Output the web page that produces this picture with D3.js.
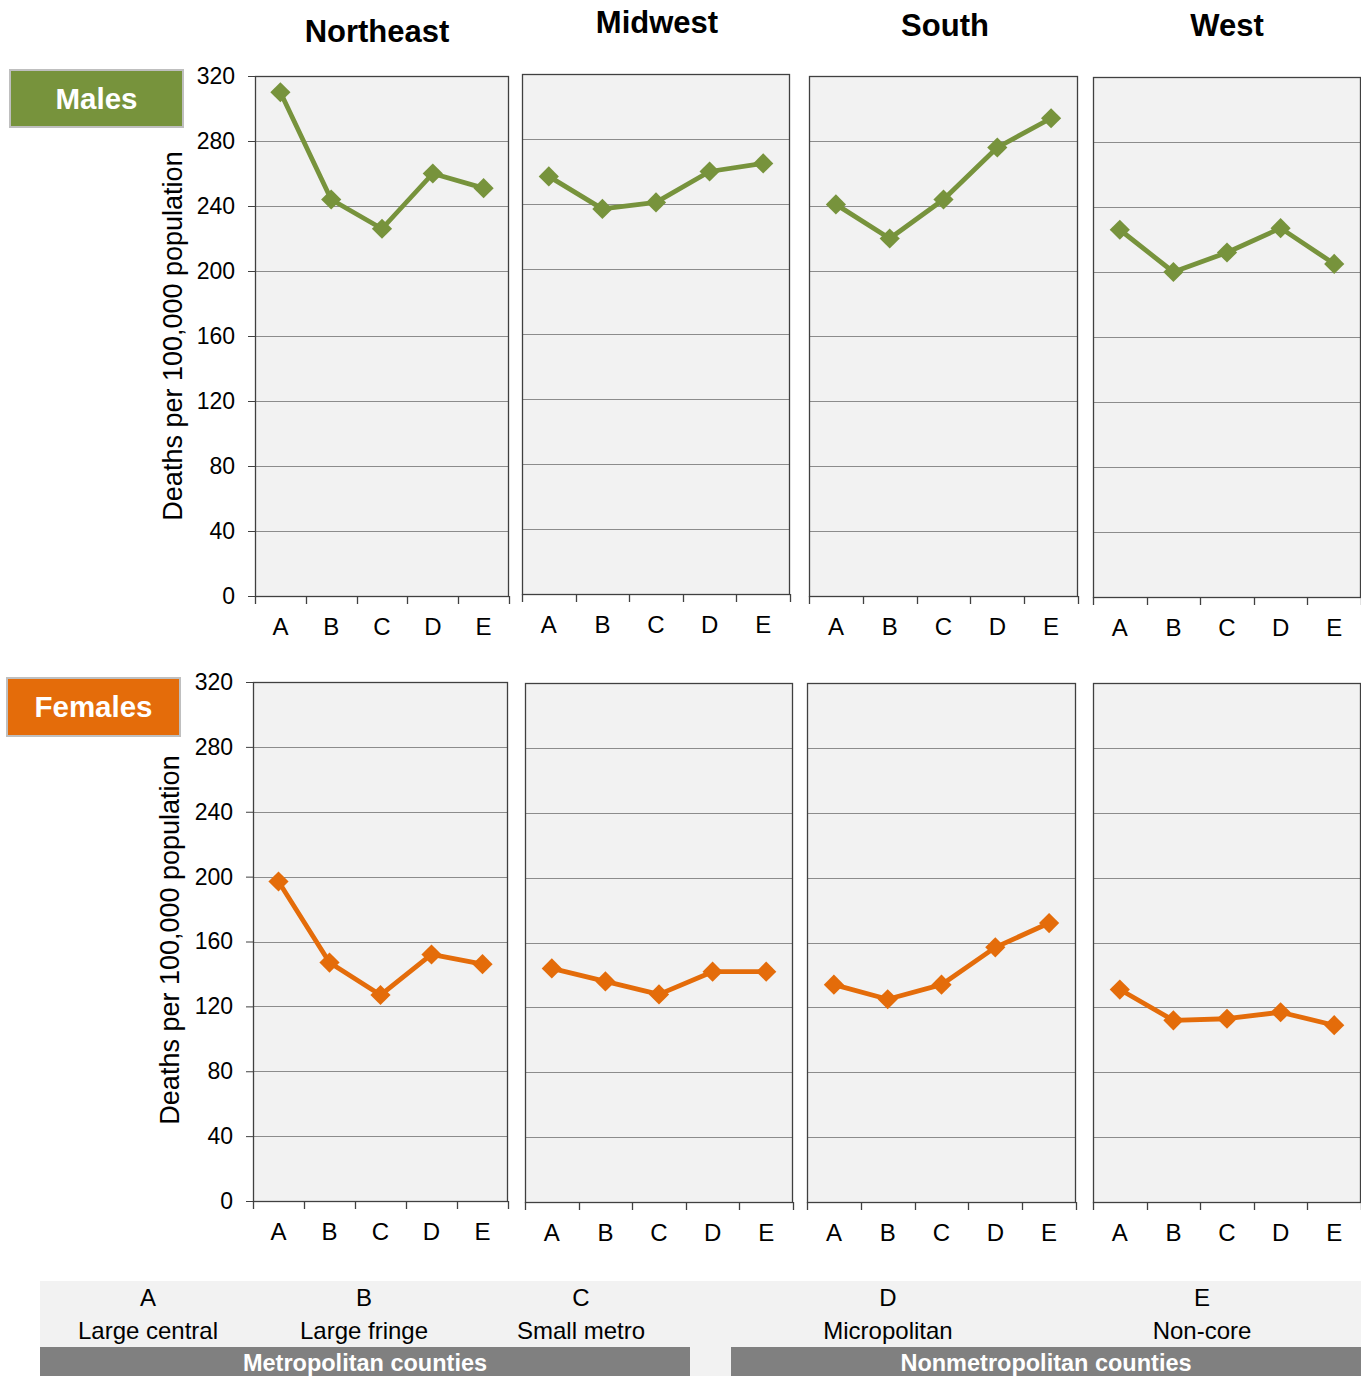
<!DOCTYPE html>
<html>
<head>
<meta charset="utf-8">
<script src="https://cdn.jsdelivr.net/npm/d3@7"></script>
<style>
  html, body { margin: 0; padding: 0; background: #fff; }
  svg { display: block; font-family: "Liberation Sans", Arial, sans-serif; }
</style>
</head>
<body>
<svg id="chart" width="1361" height="1376"></svg>
<script>
// ---------- data ----------
const regions = ["Northeast", "Midwest", "South", "West"];
const categories = ["A", "B", "C", "D", "E"];
const categoryNames = ["Large central", "Large fringe", "Small metro", "Micropolitan", "Non-core"];
const groupLabels = ["Metropolitan counties", "Nonmetropolitan counties"];
const sexLabels = ["Males", "Females"];
const yTicks = [0, 40, 80, 120, 160, 200, 240, 280, 320];
const yTitle = "Deaths per 100,000 population";

const malesNortheast = [310, 244, 226, 260, 251];
const malesMidwest   = [257, 237, 241, 260, 265];
const malesSouth     = [241, 220, 244, 276, 294];
const malesWest      = [226, 200, 212, 227, 205];

const femalesNortheast = [197, 147, 127, 152, 146];
const femalesMidwest   = [144, 136, 128, 142, 142];
const femalesSouth     = [134, 125, 134, 157, 172];
const femalesWest      = [131, 112, 113, 117, 109];

const seriesBySex = [
  [malesNortheast, malesMidwest, malesSouth, malesWest],
  [femalesNortheast, femalesMidwest, femalesSouth, femalesWest]
];

// ---------- layout (positions / styles) ----------
const sexColors = ["#77933C", "#E46C0A"];
const panelFrames = [
  [ {x0:255, x1:509, y0:76, y1:596}, {x0:522, x1:790, y0:74, y1:594},
    {x0:809, x1:1078, y0:76, y1:596}, {x0:1093, x1:1361, y0:77, y1:597} ],
  [ {x0:253, x1:508, y0:682, y1:1201}, {x0:525, x1:793, y0:683, y1:1202},
    {x0:807, x1:1076, y0:683, y1:1202}, {x0:1093, x1:1361, y0:683, y1:1202} ]
];
const titlePos = [ {x:377, y:42}, {x:657, y:33}, {x:945, y:36}, {x:1227, y:36} ];
const sexBoxes = [ {x:10, y:70, w:173, h:57}, {x:7, y:678, w:173, h:58} ];
const yTitlePos = [ {x:182, y:336}, {x:179, y:940} ];
const legendCenters = [148, 364, 581, 888, 1202];

const svg = d3.select("#chart");

// Region titles
svg.selectAll("text.region").data(regions).join("text")
  .attr("class", "region")
  .attr("x", (d, i) => titlePos[i].x)
  .attr("y", (d, i) => titlePos[i].y)
  .attr("text-anchor", "middle")
  .attr("font-size", 31).attr("font-weight", "bold").attr("fill", "#000")
  .text(d => d);

seriesBySex.forEach((regionSeries, s) => {
  const color = sexColors[s];

  // Sex label box
  const b = sexBoxes[s];
  svg.append("rect").attr("x", b.x).attr("y", b.y).attr("width", b.w).attr("height", b.h)
    .attr("fill", color).attr("stroke", "#BFBFBF").attr("stroke-width", 2);
  svg.append("text").attr("x", b.x + b.w / 2).attr("y", b.y + b.h / 2 + 10)
    .attr("text-anchor", "middle").attr("font-size", 29.5).attr("font-weight", "bold")
    .attr("fill", "#fff").text(sexLabels[s]);

  // Y title
  svg.append("text")
    .attr("transform", `translate(${yTitlePos[s].x},${yTitlePos[s].y}) rotate(-90)`)
    .attr("text-anchor", "middle").attr("font-size", 27).attr("fill", "#000")
    .text(yTitle);

  regionSeries.forEach((vals, r) => {
    const f = panelFrames[s][r];
    const x = d3.scaleBand().domain(categories).range([f.x0, f.x1]).paddingInner(0).paddingOuter(0);
    const y = d3.scaleLinear().domain([0, 320]).range([f.y1, f.y0]);
    const g = svg.append("g");

    // background
    g.append("rect").attr("x", f.x0).attr("y", f.y0)
      .attr("width", f.x1 - f.x0).attr("height", f.y1 - f.y0)
      .attr("fill", "#F2F2F2");

    // gridlines
    g.selectAll("line.grid").data(yTicks.filter(t => t > 0 && t < 320)).join("line")
      .attr("x1", f.x0).attr("x2", f.x1)
      .attr("y1", d => Math.round(y(d)) + 0.5).attr("y2", d => Math.round(y(d)) + 0.5)
      .attr("stroke", "#8C8C8C").attr("stroke-width", 1.2);

    // frame
    g.append("rect").attr("x", f.x0 + 0.5).attr("y", f.y0 + 0.5)
      .attr("width", f.x1 - f.x0 - 1).attr("height", f.y1 - f.y0)
      .attr("fill", "none").attr("stroke", "#404040").attr("stroke-width", 1.3);

    // y axis (first column only)
    if (r === 0) {
      const ya = g.append("g").attr("transform", `translate(${f.x0},0)`)
        .call(d3.axisLeft(y).tickValues(yTicks).tickSize(7).tickPadding(13).tickSizeOuter(0));
      ya.select(".domain").attr("stroke", "#404040");
      ya.selectAll(".tick line").attr("stroke", "#404040");
      ya.selectAll(".tick text").attr("font-size", 23).attr("fill", "#000")
        .attr("font-family", "Liberation Sans, Arial, sans-serif");
    }

    // x axis: labels at band centres
    const xa = g.append("g").attr("transform", `translate(0,${f.y1})`)
      .call(d3.axisBottom(x).tickSize(0).tickPadding(22));
    xa.select(".domain").remove();
    xa.selectAll(".tick text").attr("font-size", 24).attr("fill", "#000")
      .attr("font-family", "Liberation Sans, Arial, sans-serif");

    // x tick marks at band boundaries
    const bounds = categories.map(c => x(c)).concat([f.x1]);
    g.selectAll("line.xt").data(bounds).join("line")
      .attr("x1", d => Math.round(d) + 0.5).attr("x2", d => Math.round(d) + 0.5)
      .attr("y1", f.y1).attr("y2", f.y1 + 8)
      .attr("stroke", "#404040").attr("stroke-width", 1.3);

    // line
    const line = d3.line().x((d, i) => x(categories[i]) + x.bandwidth() / 2).y(d => y(d));
    g.append("path").datum(vals).attr("d", line)
      .attr("fill", "none").attr("stroke", color).attr("stroke-width", 4.8)
      .attr("stroke-linejoin", "round");

    // diamond markers
    const sym = d3.symbol().type(d3.symbolDiamond2).size(260);
    g.selectAll("path.mk").data(vals).join("path")
      .attr("transform", (d, i) => `translate(${x(categories[i]) + x.bandwidth() / 2},${y(d)})`)
      .attr("d", sym).attr("fill", color);
  });
});

// ---------- bottom legend ----------
svg.append("rect").attr("x", 40).attr("y", 1281).attr("width", 1321).attr("height", 95).attr("fill", "#F2F2F2");
svg.selectAll("text.lcat").data(categories).join("text")
  .attr("x", (d, i) => legendCenters[i]).attr("y", 1306)
  .attr("text-anchor", "middle").attr("font-size", 24).attr("fill", "#000").text(d => d);
svg.selectAll("text.lname").data(categoryNames).join("text")
  .attr("x", (d, i) => legendCenters[i]).attr("y", 1339)
  .attr("text-anchor", "middle").attr("font-size", 24).attr("fill", "#000").text(d => d);

const groupBars = [ {x0:40, x1:690}, {x0:731, x1:1361} ];
groupLabels.forEach((lab, i) => {
  const gb = groupBars[i];
  svg.append("rect").attr("x", gb.x0).attr("y", 1347).attr("width", gb.x1 - gb.x0).attr("height", 29).attr("fill", "#808080");
  svg.append("text").attr("x", (gb.x0 + gb.x1) / 2).attr("y", 1371)
    .attr("text-anchor", "middle").attr("font-size", 23.5).attr("font-weight", "bold")
    .attr("fill", "#fff").text(lab);
});
</script>
</body>
</html>
